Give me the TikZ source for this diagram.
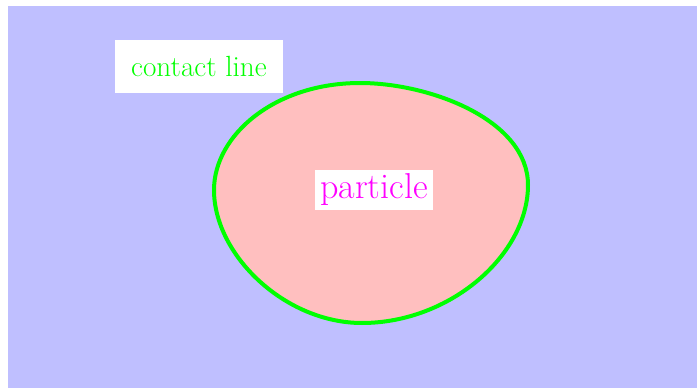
\documentclass[tikz,border=0pt]{standalone}
\definecolor{bgblue}{HTML}{BFBFFF}
\definecolor{blobpink}{HTML}{FFBFBF}
\definecolor{linegreen}{HTML}{00FF00}
\definecolor{labelmagenta}{HTML}{FF00FF}

\begin{document}
\begin{tikzpicture}[
    x=1pt, y=-1pt,
    label box/.style={
        rectangle,
        fill=white,
        inner sep=0pt,
        text=#1
    },
    blob/.style={
        draw=linegreen,
        line width=4pt,
        fill=blobpink
    }
]

\useasboundingbox (0,0) rectangle (697,388);
\fill[bgblue] (8,6) rectangle (697,388);

% particle outline
\draw[blob] (214,190)
    .. controls (214,135) and (275,83) .. (360,83)
    .. controls (430,83) and (528,120) .. (528,185)
    .. controls (528,255) and (450,323) .. (362,323)
    .. controls (285,323) and (214,255) .. cycle;

\node[label box=linegreen, minimum width=168, minimum height=53,
    font=\fontsize{29.2}{31}\selectfont] (contact) at (199,66.5)
{contact line};

\node[label box=labelmagenta, minimum width=118, minimum height=40,
    font=\fontsize{36}{38}\selectfont] (particle) at (374,190)
{particle};

\end{tikzpicture}
\end{document}
